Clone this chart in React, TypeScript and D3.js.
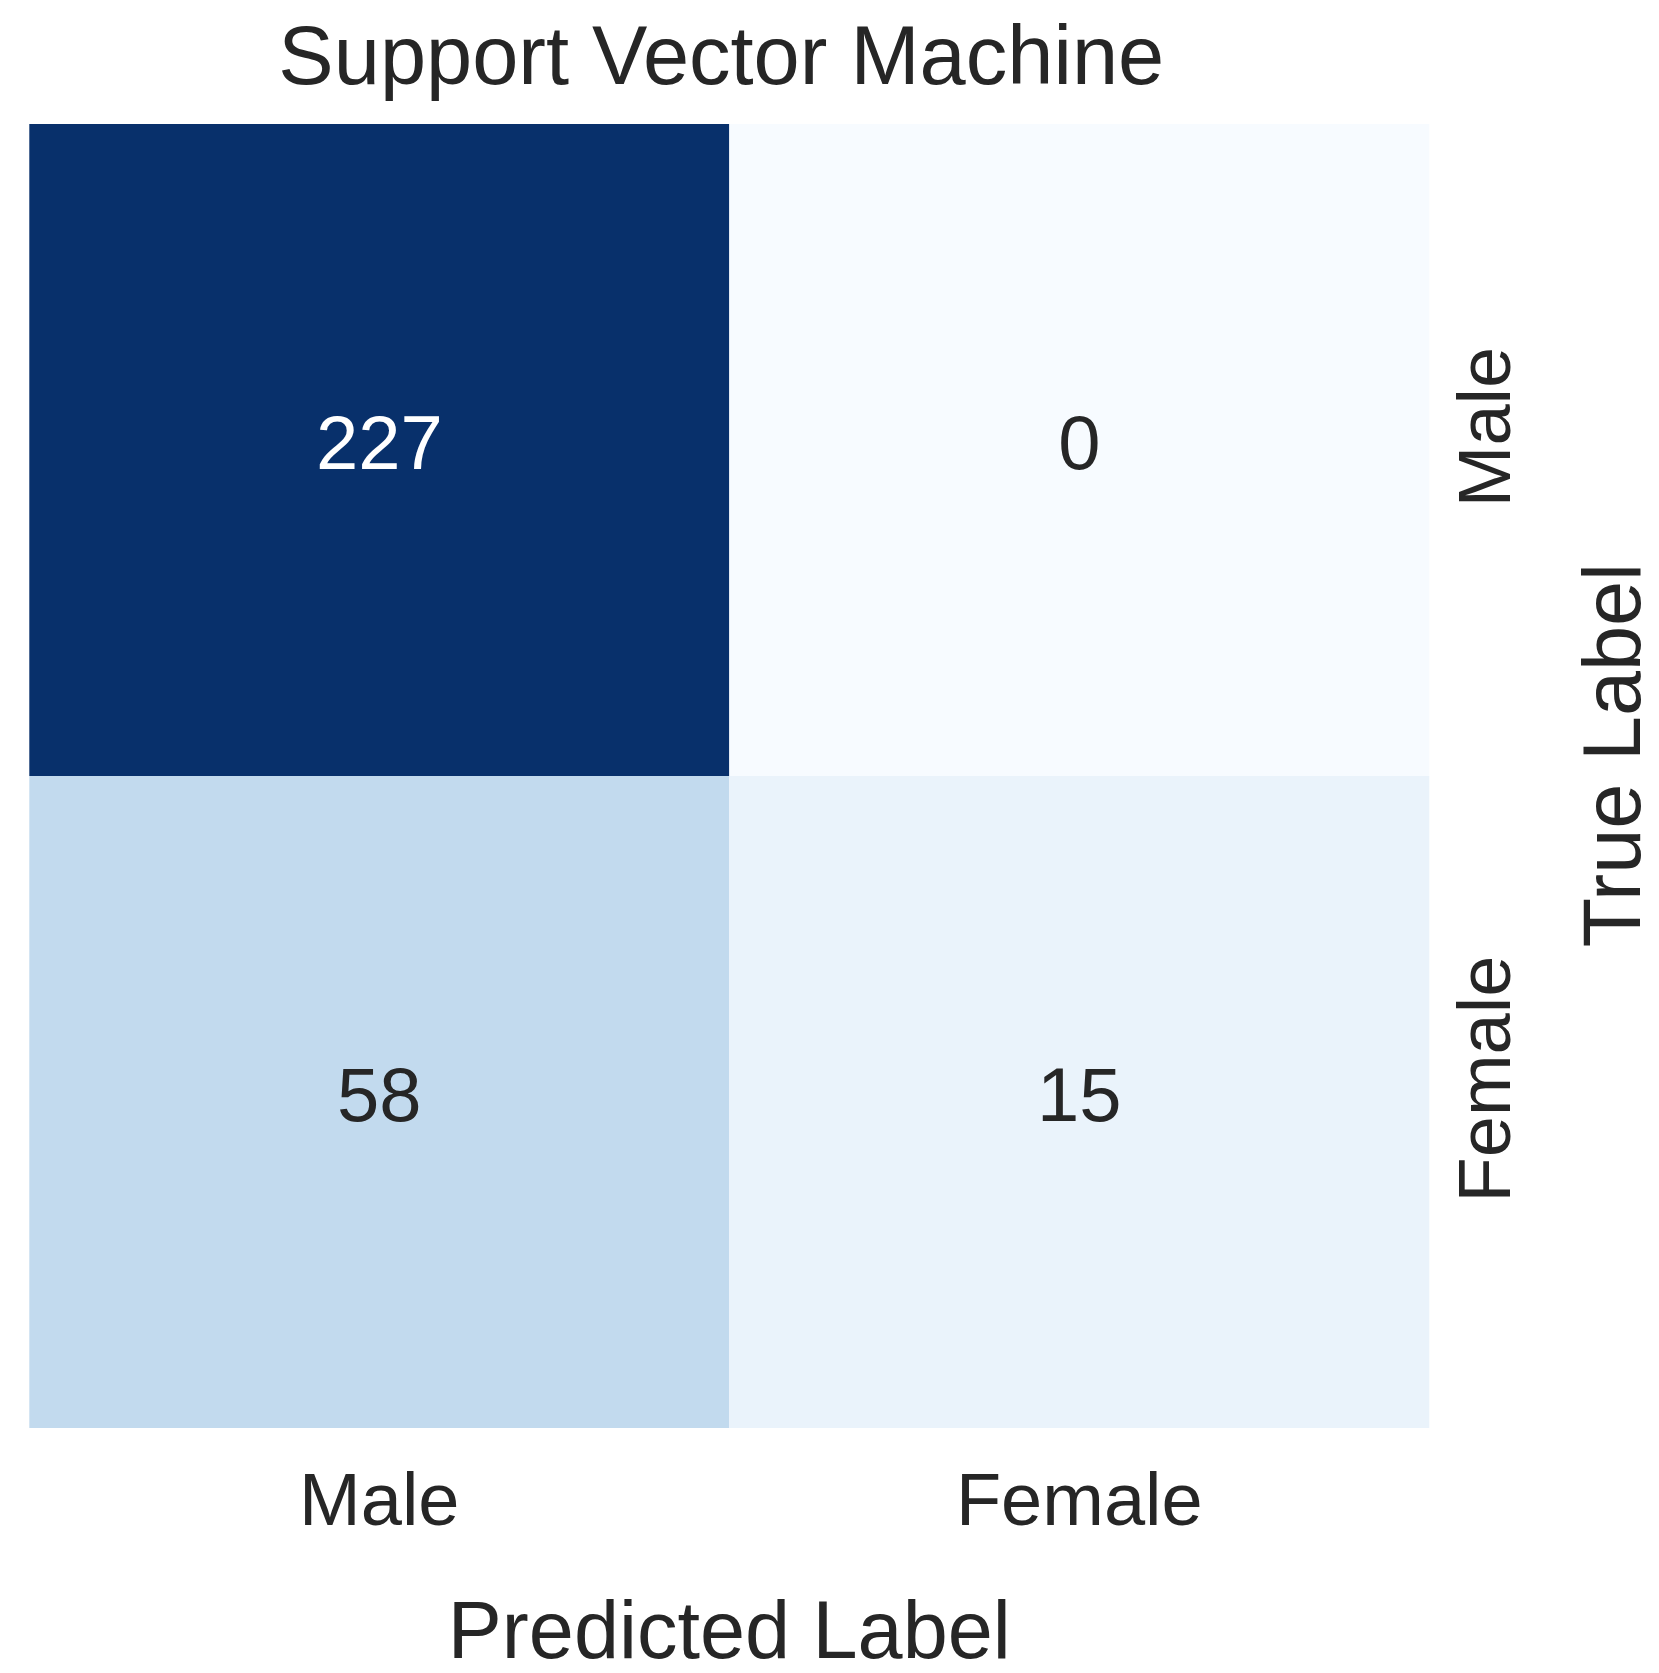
import React from "react";
import { scaleBand, scaleSequential, interpolateBlues, max } from "d3";

const classes = ["Male", "Female"];
// rows = true label, columns = predicted label
const counts = [
  [227, 0],
  [58, 15]
];
const title = "Support Vector Machine";
const xLabel = "Predicted Label";
const yLabel = "True Label";

const W = 1659;
const H = 1673;
const margin = { left: 29.3, top: 124, right: 229.7, bottom: 245 };
const FONT = "'Liberation Sans', Arial, Helvetica, sans-serif";
const TEXT = "#262626";

const App = () => {
  const innerW = W - margin.left - margin.right;
  const innerH = H - margin.top - margin.bottom;

  const xScale = scaleBand().domain(classes).range([margin.left, margin.left + innerW]);
  const yScale = scaleBand().domain(classes).range([margin.top, margin.top + innerH]);

  const maxVal = max(counts.flat()) || 1;
  const color = scaleSequential(interpolateBlues).domain([0, maxVal]);

  const cells = counts.flatMap((row, r) =>
    row.map((value, c) => ({ value, row: classes[r], col: classes[c] }))
  );

  const midX = margin.left + innerW / 2;
  const midY = margin.top + innerH / 2;
  const right = margin.left + innerW;
  const bottom = margin.top + innerH;

  return (
    <svg
      width={W}
      height={H}
      style={{ position: "absolute", left: 0, top: 0, background: "#fff" }}
      fontFamily={FONT}
    >
      {cells.map(d => (
        <rect
          key={d.row + d.col}
          x={xScale(d.col)}
          y={yScale(d.row)}
          width={xScale.bandwidth()}
          height={yScale.bandwidth()}
          fill={color(d.value)}
        />
      ))}
      {cells.map(d => (
        <text
          key={"t" + d.row + d.col}
          x={(xScale(d.col) || 0) + xScale.bandwidth() / 2}
          y={(yScale(d.row) || 0) + yScale.bandwidth() / 2 + 19}
          textAnchor="middle"
          fontSize={76}
          fill={d.value / maxVal > 0.6 ? "#ffffff" : TEXT}
        >
          {d.value}
        </text>
      ))}

      {/* bottom ticks */}
      {classes.map(c => (
        <text
          key={"xt" + c}
          x={(xScale(c) || 0) + xScale.bandwidth() / 2}
          y={bottom + 97}
          textAnchor="middle"
          fontSize={74}
          fill={TEXT}
        >
          {c}
        </text>
      ))}
      {/* right ticks, rotated */}
      {classes.map(c => (
        <text
          key={"yt" + c}
          transform={`translate(${right + 81},${(yScale(c) || 0) + yScale.bandwidth() / 2 - 23}) rotate(-90)`}
          textAnchor="middle"
          fontSize={74}
          fill={TEXT}
        >
          {c}
        </text>
      ))}

      <text x={midX} y={bottom + 230} textAnchor="middle" fontSize={81} fill={TEXT}>
        {xLabel}
      </text>
      <text
        transform={`translate(${right + 211},${midY - 21}) rotate(-90)`}
        textAnchor="middle"
        fontSize={81}
        fill={TEXT}
      >
        {yLabel}
      </text>
      <text x={midX - 8} y={84} textAnchor="middle" fontSize={83} fill={TEXT}>
        {title}
      </text>
    </svg>
  );
};

export default App;
